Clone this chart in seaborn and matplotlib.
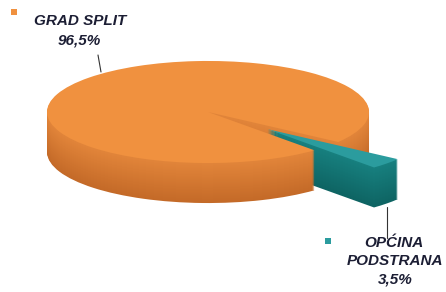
"""
3D-looking pie: Grad Split vs Općina Podstrana
"""

import numpy as np
import matplotlib
matplotlib.use('Agg')
import matplotlib.pyplot as plt
import matplotlib.colors as mcolors
import seaborn as sns

# data
labels = ['GRAD SPLIT', 'OPĆINA\nPODSTRANA']
shares = [96.5, 3.5]
share_labels = ['96,5%', '3,5%']
top_colors = ['#F0913F', '#2B9C9E']
side_top = ['#E2853A', '#17807F']
side_bottom = ['#C46A28', '#0E6463']
explode_frac = [0.0, 0.5]

W, H = 446, 292
K = 0.317          # vertical squash of the pie (tilt)
CX, CY = 208, 112  # pie centre in pixels (y down)
R = 161            # radius in pixels
DEPTH = 40         # pie thickness in pixels


def px(x, y):
    """pixel position (y down) -> data coords"""
    return x, (H - y) / K


sns.set_style('white')
plt.rcParams['font.family'] = ['Liberation Sans', 'DejaVu Sans']

fig = plt.figure(figsize=(W / 100, H / 100), dpi=100)
ax = fig.add_axes([0, 0, 1, 1])

# matplotlib's explode is an absolute offset, scale by radius
explode = [e * R for e in explode_frac]

# side walls: stack of pies from bottom to top
for i in range(DEPTH, 0, -1):
    t = i / DEPTH
    cols = [mcolors.to_hex((1 - t) * np.array(mcolors.to_rgb(a)) + t * np.array(mcolors.to_rgb(b)))
            for a, b in zip(side_top, side_bottom)]
    ax.pie(shares, colors=cols, radius=R, center=px(CX, CY + i),
           startangle=-36, explode=explode, counterclock=True,
           wedgeprops=dict(linewidth=0))

# top face
ax.pie(shares, colors=top_colors, radius=R, center=px(CX, CY),
       startangle=-36, explode=explode, counterclock=True,
       wedgeprops=dict(linewidth=0))

ax.set_aspect('auto')
ax.set_xlim(0, W)
ax.set_ylim(0, H / K)
ax.axis('off')

txt = dict(fontsize=11, fontweight='bold', fontstyle='italic', color='#1c1e34',
           ha='center', va='center')

# Grad Split label
ax.text(*px(80, 21), labels[0], **txt)
ax.text(*px(79, 40), share_labels[0], **txt)
ax.plot(*zip(px(98, 55), px(101, 72)), color='#333333', lw=0.8)
ax.scatter(*px(14, 12), marker='s', s=14, color=top_colors[0], linewidths=0)

# Općina Podstrana label
ax.text(*px(394, 243), 'OPĆINA', **txt)
ax.text(*px(395, 261), 'PODSTRANA', **txt)
ax.text(*px(395, 280), share_labels[1], **txt)
ax.plot(*zip(px(387, 207), px(387, 238)), color='#333333', lw=0.8)
ax.scatter(*px(328, 241), marker='s', s=18, color=top_colors[1], linewidths=0)

fig.savefig('out.png', dpi=100)
